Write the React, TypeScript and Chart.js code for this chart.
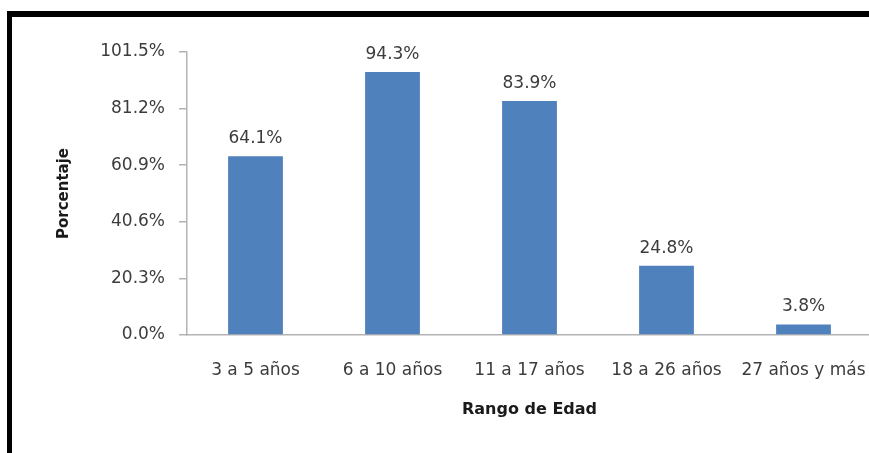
import React, { useEffect, useRef } from "react";
import { Chart, registerables } from "chart.js";

Chart.register(...registerables);

const categories = ["3 a 5 años", "6 a 10 años", "11 a 17 años", "18 a 26 años", "27 años y más"];
const values = [64.1, 94.3, 83.9, 24.8, 3.8];
const yTicks = [0, 20.3, 40.6, 60.9, 81.2, 101.5];
const yTitle = "Porcentaje";
const xTitle = "Rango de Edad";

const FONT = "'DejaVu Sans', sans-serif";
const LABEL_COLOR = "#3c3c3c";

const dataLabels = {
  id: "dataLabels",
  afterDatasetsDraw(chart: any) {
    const ctx = chart.ctx;
    const meta = chart.getDatasetMeta(0);
    ctx.save();
    ctx.font = `17px ${FONT}`;
    ctx.fillStyle = LABEL_COLOR;
    ctx.textAlign = "center";
    ctx.textBaseline = "alphabetic";
    meta.data.forEach((bar: any, i: number) => {
      ctx.fillText(values[i].toFixed(1) + "%", bar.x, bar.y - 13);
    });
    ctx.restore();
  },
};

export default function App() {
  const ref = useRef<HTMLCanvasElement>(null);
  useEffect(() => {
    if (!ref.current) return;
    const chart = new Chart(ref.current, {
      type: "bar",
      data: {
        labels: categories,
        datasets: [
          {
            data: values,
            backgroundColor: "#4f81bd",
            borderWidth: 0,
            categoryPercentage: 1,
            barPercentage: 0.4,
          },
        ],
      },
      options: {
        responsive: false,
        animation: false,
        layout: { padding: { left: 55, right: 8, top: 52, bottom: 0 } },
        plugins: {
          legend: { display: false },
          tooltip: { enabled: false },
        },
        scales: {
          x: {
            grid: { display: false, drawTicks: true, tickLength: 25 },
            border: { display: true, color: "#b3b3b3", width: 1.5 },
            ticks: {
              color: LABEL_COLOR,
              font: { family: FONT, size: 17 },
              padding: 0,
              maxRotation: 0,
              autoSkip: false,
            },
            title: {
              display: true,
              text: xTitle,
              color: "#1a1a1a",
              font: { family: FONT, size: 16, weight: "bold" },
              padding: { top: 0, bottom: 34 },
            },
            afterFit: (scale: any) => {
              scale.height = 453 - 335;
            },
          },
          y: {
            min: 0,
            max: 101.5,
            grid: {
              display: true,
              drawOnChartArea: false,
              drawTicks: true,
              tickLength: 8,
              color: "#b3b3b3",
              lineWidth: 1.5,
            },
            border: { display: true, color: "#b3b3b3", width: 1.5 },
            afterBuildTicks: (scale: any) => {
              scale.ticks = yTicks.map((v) => ({ value: v }));
            },
            ticks: {
              color: LABEL_COLOR,
              font: { family: FONT, size: 17 },
              padding: 14,
              callback: (v: any) => Number(v).toFixed(1) + "%",
            },
            title: {
              display: true,
              text: yTitle,
              color: "#1a1a1a",
              font: { family: FONT, size: 15, weight: "bold" },
              padding: { top: 0, bottom: 0 },
            },
            afterFit: (scale: any) => {
              scale.width = 187 - 55;
            },
          },
        },
      },
      plugins: [dataLabels],
    });
    return () => chart.destroy();
  }, []);

  return (
    <div
      style={{
        position: "fixed",
        left: 0,
        top: 0,
        width: 869,
        height: 453,
        overflow: "hidden",
        background: "#fff",
      }}
    >
      <canvas
        ref={ref}
        width={880}
        height={453}
        style={{ position: "absolute", left: 0, top: 0, width: 880, height: 453 }}
      />
      <div
        style={{
          position: "absolute",
          left: 7,
          top: 11,
          width: 900,
          height: 500,
          borderTop: "6px solid #000",
          borderLeft: "5px solid #000",
        }}
      />
    </div>
  );
}
